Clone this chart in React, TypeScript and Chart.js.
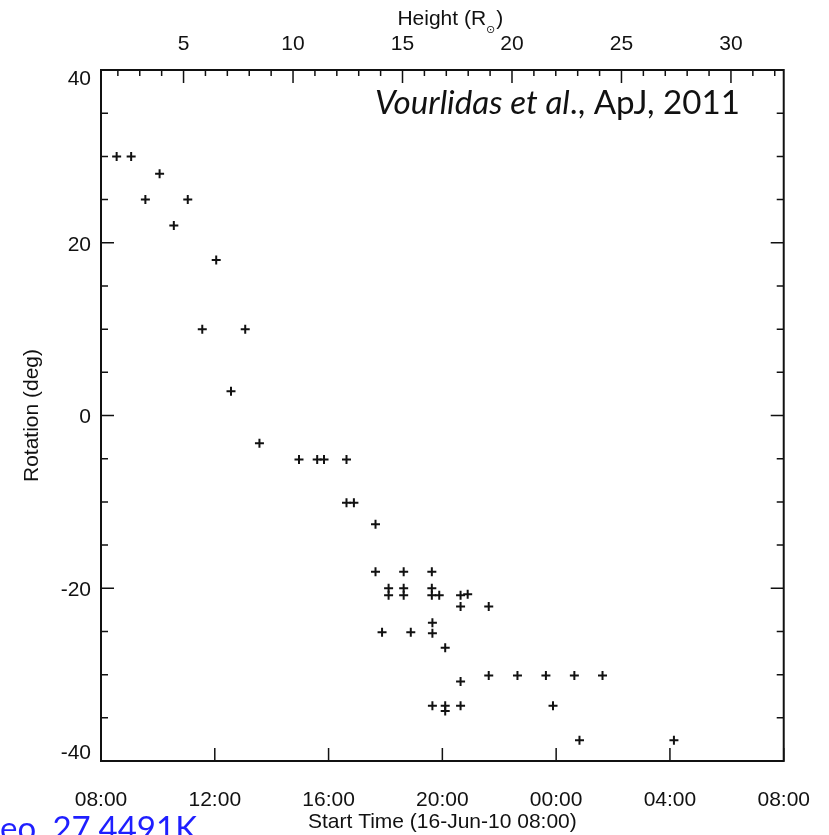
import React, { useEffect, useRef } from 'react';
import { Chart, registerables } from 'chart.js';

Chart.register(...registerables);

// Start time in hours after 16-Jun-10 08:00
const startTimeHours = [
  0.55, 1.06, 1.56, 2.06, 2.56, 3.05, 3.56, 4.05, 4.57, 5.07,
  5.57, 6.96, 7.60, 7.84, 8.63, 8.63, 8.89, 9.65, 9.65, 9.88,
  10.11, 10.11, 10.64, 10.64, 10.64, 10.89, 11.63, 11.63, 11.63, 11.65,
  11.65, 11.65, 11.89, 12.10, 12.10, 12.10, 12.64, 12.64, 12.64, 12.64,
  12.89, 13.63, 13.63, 14.64, 15.64, 15.89, 16.64, 16.82, 17.63, 20.14,
];
// Rotation (deg)
const rotationDeg = [
  30.0, 30.0, 25.0, 28.0, 22.0, 25.0, 10.0, 18.0, 2.8, 10.0,
  -3.2, -5.1, -5.1, -5.1, -5.1, -10.1, -10.1, -12.6, -18.1, -25.1,
  -20.0, -20.8, -18.1, -20.0, -20.8, -25.1, -18.1, -20.0, -20.8, -24.0,
  -25.2, -33.6, -20.8, -26.9, -33.6, -34.2, -20.8, -22.1, -30.8, -33.6,
  -20.7, -22.1, -30.1, -30.1, -30.1, -33.6, -30.1, -37.6, -30.1, -37.6,
];

const timeTickHours = [0, 4, 8, 12, 16, 20, 24];
const timeTickLabels = ['08:00', '12:00', '16:00', '20:00', '00:00', '04:00', '08:00'];
const rotationTicks = [-40, -20, 0, 20, 40];
const rotationTickLabels = ['-40', '-20', '0', '20', '40'];
const heightTicks = [5, 10, 15, 20, 25, 30];
const heightAxisRange = [1.23, 32.41];

const FONT = "'Liberation Sans', Arial, Helvetica, sans-serif";
const INK = '#111111';

export default function App() {
  const ref = useRef<HTMLCanvasElement>(null);

  useEffect(() => {
    document.body.style.margin = '0';
    const canvas = ref.current as HTMLCanvasElement;
    const pts = startTimeHours.map((h, i) => ({ x: h, y: rotationDeg[i] }));

    const overlay = {
      id: 'overlay',
      afterDraw(chart: any) {
        const { ctx, chartArea: ca } = chart;
        const xs = chart.scales.x;
        const ys = chart.scales.y;
        const hs = chart.scales.x2;
        ctx.save();
        // tick marks (inward)
        ctx.strokeStyle = INK;
        ctx.lineWidth = 1.5;
        ctx.beginPath();
        timeTickHours.forEach((h) => {
          const p = xs.getPixelForValue(h);
          ctx.moveTo(p, ca.bottom);
          ctx.lineTo(p, ca.bottom - 13);
        });
        for (let v = -40; v <= 40; v += 5) {
          const p = ys.getPixelForValue(v);
          const len = v % 20 === 0 ? 13 : 7;
          ctx.moveTo(ca.left, p);
          ctx.lineTo(ca.left + len, p);
          ctx.moveTo(ca.right, p);
          ctx.lineTo(ca.right - len, p);
        }
        for (let r = Math.ceil(hs.min); r <= hs.max; r++) {
          const p = hs.getPixelForValue(r);
          const len = r % 5 === 0 ? 13 : 6;
          ctx.moveTo(p, ca.top);
          ctx.lineTo(p, ca.top + len);
        }
        ctx.stroke();
        // frame
        ctx.lineWidth = 2;
        ctx.strokeRect(ca.left, ca.top, ca.right - ca.left, ca.bottom - ca.top);

        // Left tick labels (end labels kept inside the frame, IDL style)
        ctx.fillStyle = INK;
        ctx.font = `21px ${FONT}`;
        ctx.textAlign = 'right';
        ctx.textBaseline = 'middle';
        rotationTicks.forEach((v, i) => {
          const p = ys.getPixelForValue(v);
          const off = v === ys.max ? 9 : v === ys.min ? -8 : 2;
          ctx.fillText(rotationTickLabels[i], ca.left - 10, p + off);
        });

        // Top axis title: Height (R_sun)
        ctx.textAlign = 'left';
        ctx.textBaseline = 'alphabetic';
        ctx.font = `21px ${FONT}`;
        const a = 'Height (R';
        const c = ')';
        const wa = ctx.measureText(a).width;
        const wc = ctx.measureText(c).width;
        ctx.font = `11px 'DejaVu Sans', sans-serif`;
        const wb = ctx.measureText('\u2299').width;
        const total = wa + wb + 1 + wc;
        const x0 = (ca.left + ca.right) / 2 + 8 - total / 2;
        ctx.font = `21px ${FONT}`;
        ctx.fillText(a, x0, 25);
        ctx.font = `11px 'DejaVu Sans', sans-serif`;
        ctx.fillText('\u2299', x0 + wa, 33);
        ctx.font = `21px ${FONT}`;
        ctx.fillText(c, x0 + wa + wb + 1, 25);

        // Citation annotation
        const fam = "Lato, 'Open Sans', sans-serif";
        const itPart = 'Vourlidas et al';
        const rmPart = '., ApJ, 2011';
        ctx.font = `italic 100px ${fam}`;
        const wi = ctx.measureText(itPart).width;
        ctx.font = `100px ${fam}`;
        const wr = ctx.measureText(rmPart).width;
        const size = (365 / (wi + wr)) * 100;
        ctx.fillStyle = '#111';
        ctx.font = `italic ${size}px ${fam}`;
        ctx.fillText(itPart, 375, 114);
        ctx.font = `${size}px ${fam}`;
        ctx.fillText(rmPart, 375 + (wi * size) / 100, 114);

        // Blue cropped reference text
        const blue = 'eo. 27.4491K';
        ctx.font = `100px ${fam}`;
        const wbl = ctx.measureText(blue).width;
        const bsize = (197 / wbl) * 100;
        ctx.font = `${bsize}px ${fam}`;
        ctx.fillStyle = '#1f1fff';
        ctx.textAlign = 'right';
        ctx.fillText(blue, 197, 840);
        ctx.restore();
      },
    };

    const tickFont = { family: FONT, size: 21 };

    const chart = new Chart(canvas, {
      type: 'scatter',
      data: {
        datasets: [
          {
            data: pts,
            pointStyle: 'cross',
            pointRadius: 4.5,
            pointBorderWidth: 2,
            borderColor: INK,
            backgroundColor: INK,
            showLine: false,
          },
        ],
      },
      options: {
        animation: false,
        responsive: false,
        devicePixelRatio: 1,
        events: [],
        layout: { padding: 0 },
        plugins: { legend: { display: false }, tooltip: { enabled: false } },
        scales: {
          x: {
            type: 'linear',
            position: 'bottom',
            min: 0,
            max: 24,
            afterBuildTicks: (s: any) => {
              s.ticks = timeTickHours.map((v) => ({ value: v }));
            },
            afterFit: (s: any) => {
              s.height = 74;
            },
            ticks: {
              callback: (v: any) => timeTickLabels[timeTickHours.indexOf(Number(v))] ?? '',
              font: tickFont,
              color: INK,
              padding: 19,
              maxRotation: 0,
              autoSkip: false,
            },
            grid: { display: false },
            border: { display: false },
            title: {
              display: true,
              text: 'Start Time (16-Jun-10 08:00)',
              font: tickFont,
              color: INK,
              padding: { top: 0, bottom: 0 },
            },
          },
          x2: {
            type: 'linear',
            position: 'top',
            display: true,
            min: heightAxisRange[0],
            max: heightAxisRange[1],
            afterBuildTicks: (s: any) => {
              s.ticks = heightTicks.map((v) => ({ value: v }));
            },
            afterFit: (s: any) => {
              s.height = 70;
            },
            ticks: { font: tickFont, color: INK, padding: 5, maxRotation: 0, autoSkip: false },
            grid: { display: false },
            border: { display: false },
          },
          y: {
            type: 'linear',
            position: 'left',
            min: -40,
            max: 40,
            afterBuildTicks: (s: any) => {
              s.ticks = rotationTicks.map((v) => ({ value: v }));
            },
            afterFit: (s: any) => {
              s.width = 101;
            },
            ticks: { display: false },
            grid: { display: false },
            border: { display: false },
            title: {
              display: true,
              text: 'Rotation (deg)',
              font: tickFont,
              color: INK,
              padding: { top: 20, bottom: 0 },
            },
          },
          y2: {
            type: 'linear',
            position: 'right',
            display: true,
            min: -40,
            max: 40,
            afterFit: (s: any) => {
              s.width = 42;
            },
            ticks: { display: false },
            grid: { display: false },
            border: { display: false },
          },
        },
      },
      plugins: [overlay],
    } as any);

    return () => chart.destroy();
  }, []);

  return (
    <div style={{ width: 829, height: 835, overflow: 'hidden', background: '#fff' }}>
      <canvas ref={ref} width={829} height={835} style={{ display: 'block' }} />
    </div>
  );
}
